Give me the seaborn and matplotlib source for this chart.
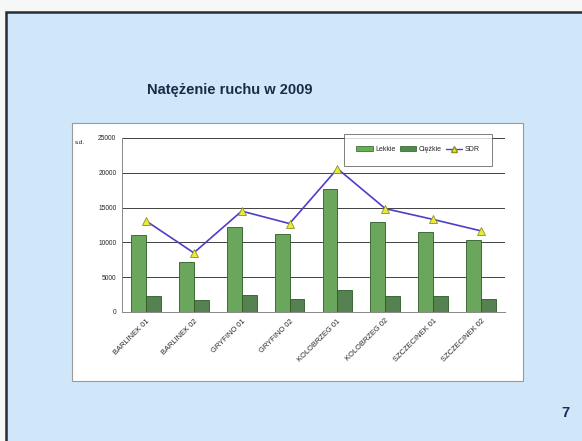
import pandas as pd
import matplotlib
matplotlib.use('Agg')
import matplotlib.pyplot as plt
import matplotlib.patches as mpatches
from matplotlib.lines import Line2D
import seaborn as sns

# data
punkty = ['BARLINEK 01', 'BARLINEK 02', 'GRYFINO 01', 'GRYFINO 02',
          'KOLOBRZEG 01', 'KOLOBRZEG 02', 'SZCZECINEK 01', 'SZCZECINEK 02']
lekkie = [11000, 7200, 12250, 11200, 17700, 12950, 11450, 10350]
ciezkie = [2330, 1660, 2380, 1860, 3190, 2230, 2290, 1860]
sdr = [13100, 8500, 14500, 12700, 20600, 14850, 13300, 11650]
yticks = [0, 5000, 10000, 15000, 20000, 25000]

sns.set_style('white')
plt.rcParams['font.family'] = ['Liberation Sans', 'DejaVu Sans']

df = pd.DataFrame({
    'punkt': punkty * 2,
    'wartosc': lekkie + ciezkie,
    'typ': ['Lekkie'] * len(punkty) + ['Ciężkie'] * len(punkty),
})

fig = plt.figure(figsize=(5.82, 4.41), dpi=100)
fig.patch.set_facecolor('#f6f8f8')

# slide background
fig.patches.append(mpatches.Rectangle((6 / 582, -0.05), 1.1, 1 - 12 / 441 + 0.05,
                                      transform=fig.transFigure, facecolor='#cfe7f8',
                                      edgecolor='#2a2a35', linewidth=1.8, zorder=-3))
# white chart box
fig.patches.append(mpatches.Rectangle((72 / 582, 1 - 381 / 441), 451 / 582, 258 / 441,
                                      transform=fig.transFigure, facecolor='white',
                                      edgecolor='#9a9a9a', linewidth=0.8, zorder=-2))

fig.text(147 / 582, 1 - 90 / 441, 'Natężenie ruchu w 2009', fontsize=10.5,
         fontweight='bold', color='#1c2a48', va='center')
fig.text(561 / 582, 1 - 413 / 441, '7', fontsize=10.5, fontweight='bold',
         color='#1c2a5a', va='center')
fig.text(75 / 582, 1 - 142 / 441, 's.d.', fontsize=4.5, color='#222222', va='center')

ax = fig.add_axes([122 / 582, 1 - 312 / 441, 383 / 582, 174 / 441])
ax.set_facecolor('white')

sns.barplot(data=df, x='punkt', y='wartosc', hue='typ', ax=ax,
            palette={'Lekkie': '#62b250', 'Ciężkie': '#4e8a48'},
            edgecolor='#2c5a28', linewidth=0.6, width=0.62, legend=False)

sns.pointplot(x=punkty, y=sdr, ax=ax, color='#4e3ec6', markers='^',
              linewidth=1.2, markersize=5.5, markerfacecolor='#e8ea3c',
              markeredgecolor='#8f9020', markeredgewidth=0.6)

ax.set_ylim(0, 25000)
ax.set_xlim(-0.5, len(punkty) - 0.5)
ax.set_yticks(yticks)
ax.set_yticklabels([str(v) for v in yticks], fontsize=4.8)
ax.set_xticks(range(len(punkty)))
ax.set_xticklabels(punkty, rotation=45, ha='right', rotation_mode='anchor', fontsize=5.4)
ax.set_xlabel('')
ax.set_ylabel('')
ax.grid(axis='y', color='#222222', linewidth=0.6)
ax.set_axisbelow(True)
for s in ['top', 'right']:
    ax.spines[s].set_visible(False)
for s in ['left', 'bottom']:
    ax.spines[s].set_color('#888888')
    ax.spines[s].set_linewidth(0.7)
ax.tick_params(axis='both', length=2, width=0.5, color='#888888', pad=2)

handles = [mpatches.Patch(facecolor='#62b250', edgecolor='#2c5a28', linewidth=0.5, label='Lekkie'),
           mpatches.Patch(facecolor='#4e8a48', edgecolor='#2c5a28', linewidth=0.5, label='Ciężkie'),
           Line2D([], [], color='#4e3ec6', marker='^', markerfacecolor='#e8ea3c',
                  markeredgecolor='#8f9020', markersize=4, linewidth=1, label='SDR')]
leg = ax.legend(handles=handles, ncol=3, loc='upper right', bbox_to_anchor=(0.975, 1.045),
                fontsize=5, frameon=True, fancybox=False, borderpad=1.8,
                handlelength=2.4, handleheight=0.6, columnspacing=0.6, handletextpad=0.3)
leg.get_frame().set_edgecolor('#444444')
leg.get_frame().set_linewidth(0.6)

fig.savefig('out.png', dpi=100)
